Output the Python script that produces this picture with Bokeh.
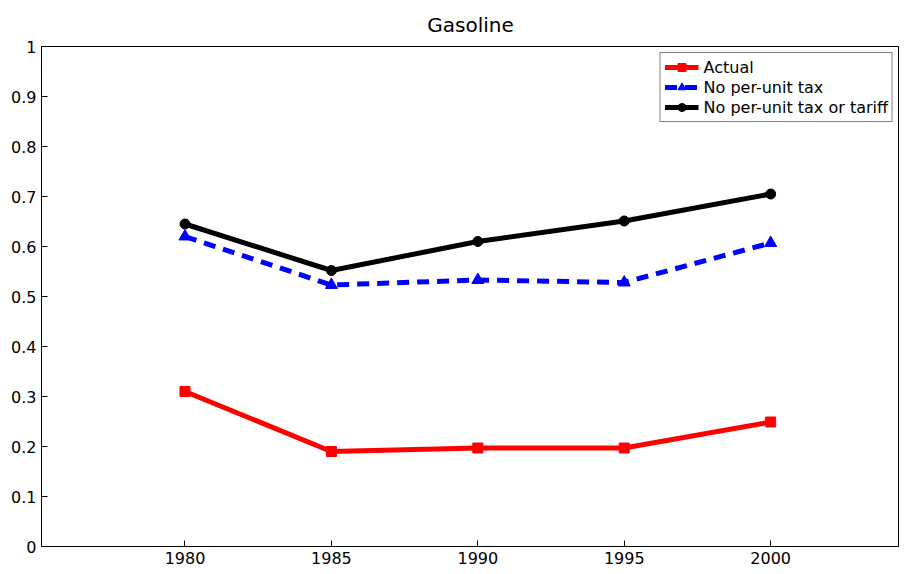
from bokeh.plotting import figure
from bokeh.models import Range1d, FixedTicker, Legend, LegendItem
from bokeh.embed import file_html
from bokeh.resources import INLINE

years = [1980, 1985, 1990, 1995, 2000]
actual = [0.310, 0.190, 0.197, 0.197, 0.249]
no_tax = [0.620, 0.523, 0.533, 0.528, 0.607]
no_tax_tariff = [0.645, 0.552, 0.610, 0.651, 0.705]
y_ticks = [0, 0.1, 0.2, 0.3, 0.4, 0.5, 0.6, 0.7, 0.8, 0.9, 1]
y_labels = {0: "0", 0.1: "0.1", 0.2: "0.2", 0.3: "0.3", 0.4: "0.4", 0.5: "0.5",
            0.6: "0.6", 0.7: "0.7", 0.8: "0.8", 0.9: "0.9", 1: "1"}

p = figure(width=899, height=566, output_backend="svg", toolbar_location=None,
           x_range=Range1d(1975.1, 2004.4), y_range=Range1d(0, 1),
           min_border_left=41, min_border_right=0, min_border_top=14, min_border_bottom=20)
p.title.text = "Gasoline"
p.title.align = "center"
p.title.text_font = "DejaVu Sans"
p.title.text_font_size = "15pt"
p.title.text_font_style = "normal"
p.title.text_color = "black"
p.title.standoff = 20
p.grid.visible = False
p.outline_line_color = "black"
p.outline_line_width = 1

for ax in (p.xaxis, p.yaxis):
    ax.major_label_text_font = "DejaVu Sans"
    ax.major_label_text_font_size = "12pt"
    ax.major_label_text_color = "black"
    ax.axis_line_color = "black"
    ax.major_tick_line_color = "black"
    ax.major_tick_in = 6
    ax.major_tick_out = 0
    ax.minor_tick_line_color = None
p.xaxis.ticker = FixedTicker(ticks=years)
p.yaxis.ticker = FixedTicker(ticks=y_ticks)
p.yaxis.major_label_overrides = y_labels

r1 = p.line(years, actual, line_color="red", line_width=5)
m1 = p.scatter(years, actual, marker="square", size=10, color="red")
r2 = p.line(years, no_tax, line_color="blue", line_width=5, line_dash="12 8")
m2 = p.scatter(years, no_tax, marker="triangle", size=12, color="blue")
r3 = p.line(years, no_tax_tariff, line_color="black", line_width=5)
m3 = p.scatter(years, no_tax_tariff, marker="circle", size=10, color="black")

legend = Legend(items=[
    LegendItem(label="Actual", renderers=[r1, m1]),
    LegendItem(label="No per-unit tax", renderers=[r2, m2]),
    LegendItem(label="No per-unit tax or tariff", renderers=[r3, m3]),
], location="top_right")
legend.label_text_font = "DejaVu Sans"
legend.label_text_font_size = "12pt"
legend.label_text_color = "black"
legend.border_line_color = "black"
legend.glyph_width = 34
legend.spacing = 0
legend.padding = 4
legend.margin = 6
legend.label_height = 20
legend.glyph_height = 20
p.add_layout(legend)

open("out.html", "w").write(file_html(p, INLINE))
